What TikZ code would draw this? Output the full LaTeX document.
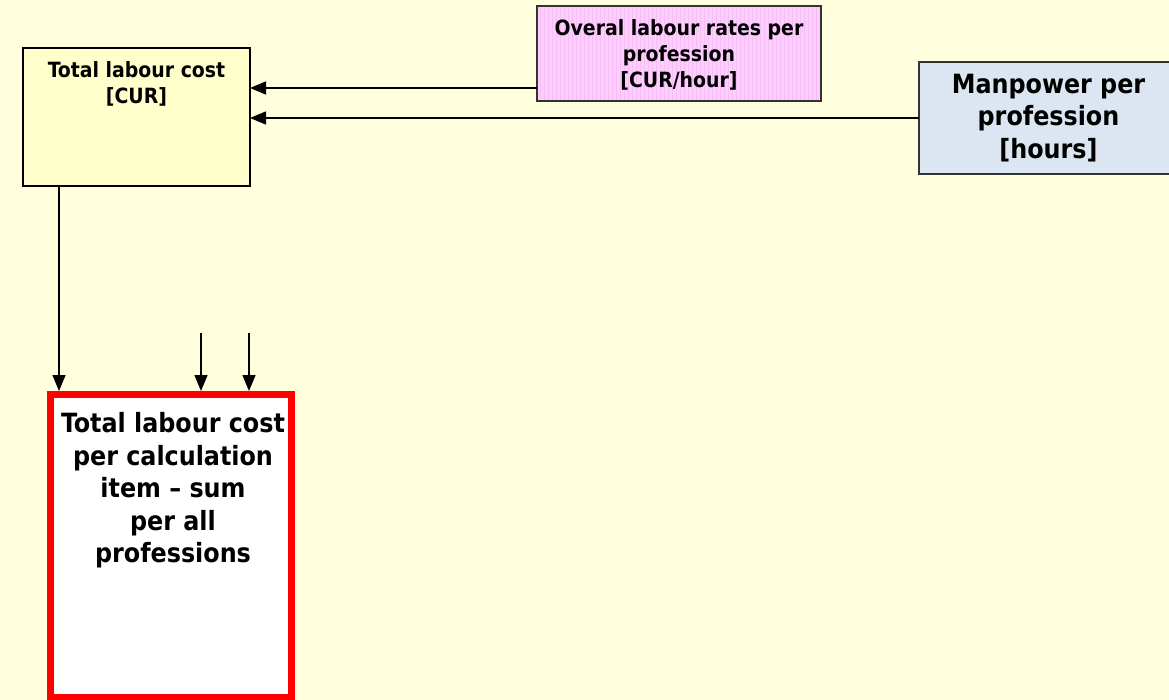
\documentclass[tikz,border=0pt]{standalone}
\usepackage{fontspec}
\newfontfamily\boxfont{DejaVu Sans Condensed}
\usetikzlibrary{arrows.meta,calc}
\definecolor{bgyellow}{HTML}{FFFFDD}
\definecolor{costfill}{HTML}{FFFFCC}
\definecolor{ratefill}{HTML}{FFCCFF}
\definecolor{rategrid}{HTML}{F4C0F4}
\definecolor{manfill}{HTML}{DCE6F2}
\definecolor{sumred}{HTML}{FF0000}
\tikzset{
  box/.style={draw=black, line width=2pt, inner sep=0pt, outer sep=0pt, anchor=north west},
  txt/.style={align=center, inner sep=0pt, outer sep=0pt},
  small/.style={txt, font=\boxfont\bfseries\fontsize{21}{26}\selectfont},
  large/.style={txt, font=\boxfont\bfseries\fontsize{26.5}{32.5}\selectfont},
  arr/.style={line width=1.5pt, -{Triangle[length=16pt,width=13pt]}}
}
\begin{document}
\begin{tikzpicture}[x=1pt,y=-1pt]
  \useasboundingbox[fill=bgyellow] (0,0) rectangle (1169,700);

  % total labour cost per profession
  \node[box, fill=costfill, minimum width=227, minimum height=138] (cost) at (23,48) {};
  \node[small, anchor=north] (costtxt) at ($(cost.north)+(0,14)$) {Total labour cost\\{}[CUR]};

  % labour rates
  \node[box, draw=black!80, fill=ratefill, minimum width=284, minimum height=95] (rate) at (537,6) {};
  \begin{scope}
    \clip (rate.north west) rectangle (rate.south east);
    \draw[rategrid, line width=0.4pt, step=4] (rate.north west) grid (rate.south east);
  \end{scope}
  \draw[black!80, line width=2pt] (rate.north west) rectangle (rate.south east);
  \node[small] (ratetxt) at ($(rate.center)+(0,1)$) {Overal labour rates per\\profession\\{}[CUR/hour]};

  % manpower
  \node[box, draw=black!80, fill=manfill, minimum width=259, minimum height=112] (man) at (919,62) {};
  \node[large] (mantxt) at ($(man.center)+(0,0)$) {Manpower per\\profession\\{}[hours]};

  % sum over all professions
  \node[draw=sumred, line width=7pt, fill=white, inner sep=0pt, outer sep=0pt, anchor=north west,
        minimum width=241, minimum height=303] (sum) at (50.5,394.5) {};
  \node[large, anchor=north] (sumtxt) at ($(sum.north)+(2,18)$)
    {Total labour cost\\per calculation\\item – sum\\per all\\professions};

  % connectors
  \draw[arr] (rate.west |- 0,88) -- (cost.east |- 0,88);
  \draw[arr] (man.west |- 0,118) -- (cost.east |- 0,118);
  \draw[arr] (cost.south -| 59,0) -- (59,391);
  \coordinate (inA) at (201,333);
  \coordinate (inB) at (249,333);
  \draw[arr] (inA) -- (inA |- 0,391);
  \draw[arr] (inB) -- (inB |- 0,391);
\end{tikzpicture}
\end{document}
